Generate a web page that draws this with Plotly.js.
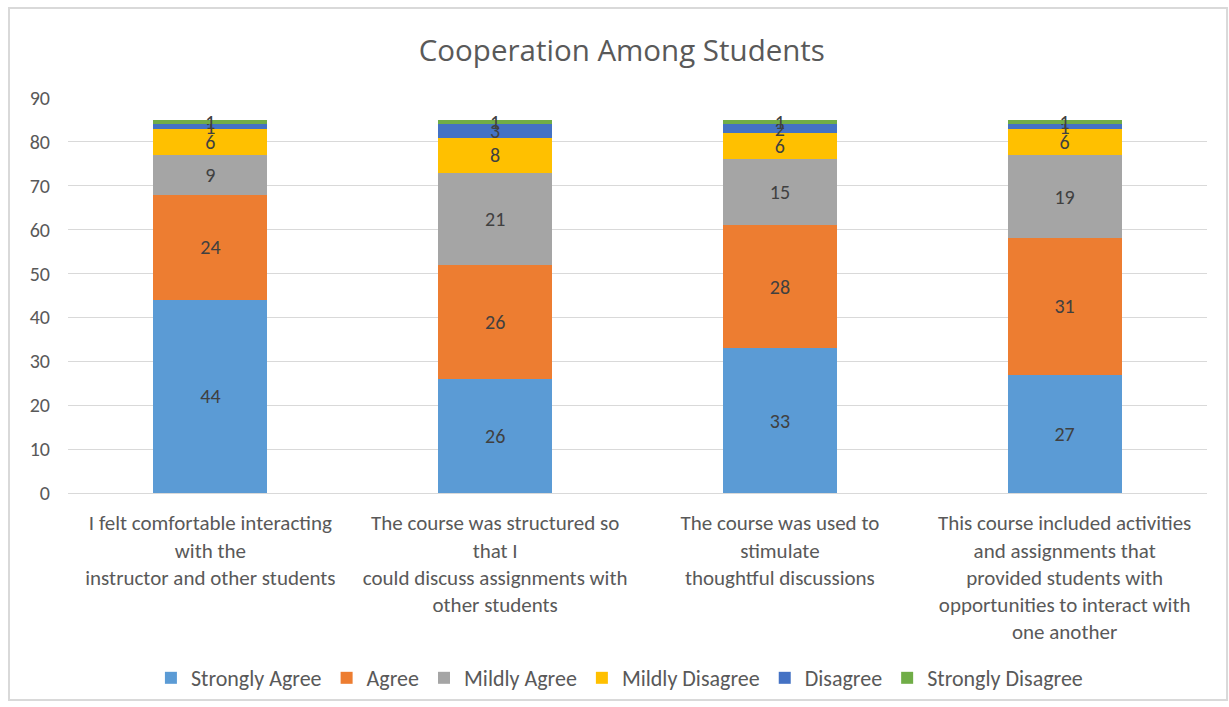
<!DOCTYPE html>
<html>
<head>
<meta charset="utf-8">
<script src="https://cdn.plot.ly/plotly-3.0.1.min.js"></script>
<style>html,body{margin:0;padding:0;background:#fff;}#chart{width:1229px;height:707px;}</style>
</head>
<body>
<div id="chart"></div>
<script>
const categories = [
  "I felt comfortable interacting<br>with the<br>instructor and other students",
  "The course was structured so<br>that I<br>could discuss assignments with<br>other students",
  "The course was used to<br>stimulate<br>thoughtful discussions",
  "This course included activities<br>and assignments that<br>provided students with<br>opportunities to interact with<br>one another"
];
const seriesNames = ["Strongly Agree", "Agree", "Mildly Agree", "Mildly Disagree", "Disagree", "Strongly Disagree"];
const stronglyAgree = [44, 26, 33, 27];
const agree = [24, 26, 28, 31];
const mildlyAgree = [9, 21, 15, 19];
const mildlyDisagree = [6, 8, 6, 6];
const disagree = [1, 3, 2, 1];
const stronglyDisagree = [1, 1, 1, 1];
const yTicks = [0, 10, 20, 30, 40, 50, 60, 70, 80, 90];

const seriesValues = [stronglyAgree, agree, mildlyAgree, mildlyDisagree, disagree, stronglyDisagree];
const colors = ["#5B9BD5", "#ED7D31", "#A5A5A5", "#FFC000", "#4472C4", "#70AD47"];
const FONT = "Carlito, Calibri, Lato, sans-serif";

const traces = seriesValues.map((vals, i) => ({
  type: "bar",
  name: seriesNames[i],
  x: categories,
  y: vals,
  text: vals.map(String),
  textposition: "inside",
  insidetextanchor: "middle",
  constraintext: "none",
  textangle: 0,
  textfont: {family: FONT, size: 20, color: "#404040"},
  marker: {color: colors[i]},
  hoverinfo: "y+name"
}));

const layout = {
  width: 1229, height: 707,
  barmode: "stack",
  bargap: 0.6,
  paper_bgcolor: "#ffffff",
  plot_bgcolor: "#ffffff",
  margin: {l: 68, r: 22, t: 98, b: 214},
  font: {family: FONT, color: "#595959"},
  title: {text: "Cooperation Among Students", font: {family: "Open Sans, sans-serif", size: 29.5, color: "#595959"}, x: 0.506, xanchor: "center", y: 0.929, yanchor: "middle"},
  xaxis: {tickfont: {family: FONT, size: 21, color: "#595959"}, showgrid: false, showline: true, linecolor: "#d9d9d9", ticks: "", ticklabelstandoff: 11, automargin: false},
  yaxis: {range: [0, 90], tickvals: yTicks, tickfont: {family: FONT, size: 20, color: "#595959"}, gridcolor: "#d9d9d9", gridwidth: 1, zeroline: false, showline: false, ticks: "", ticklabelstandoff: 17, automargin: false},
  showlegend: true,
  legend: {orientation: "h", xref: "container", yref: "container", x: 0.504, xanchor: "center", y: 0.041, yanchor: "middle", font: {family: FONT, size: 22, color: "#595959"}, traceorder: "normal", itemwidth: 30},
  shapes: [{type: "rect", xref: "paper", yref: "paper", x0: -0.0518, x1: 1.0176, y0: -0.524, y1: 1.228, line: {color: "#d9d9d9", width: 2}}]
};

Plotly.newPlot("chart", traces, layout, {displayModeBar: false});
</script>
</body>
</html>
